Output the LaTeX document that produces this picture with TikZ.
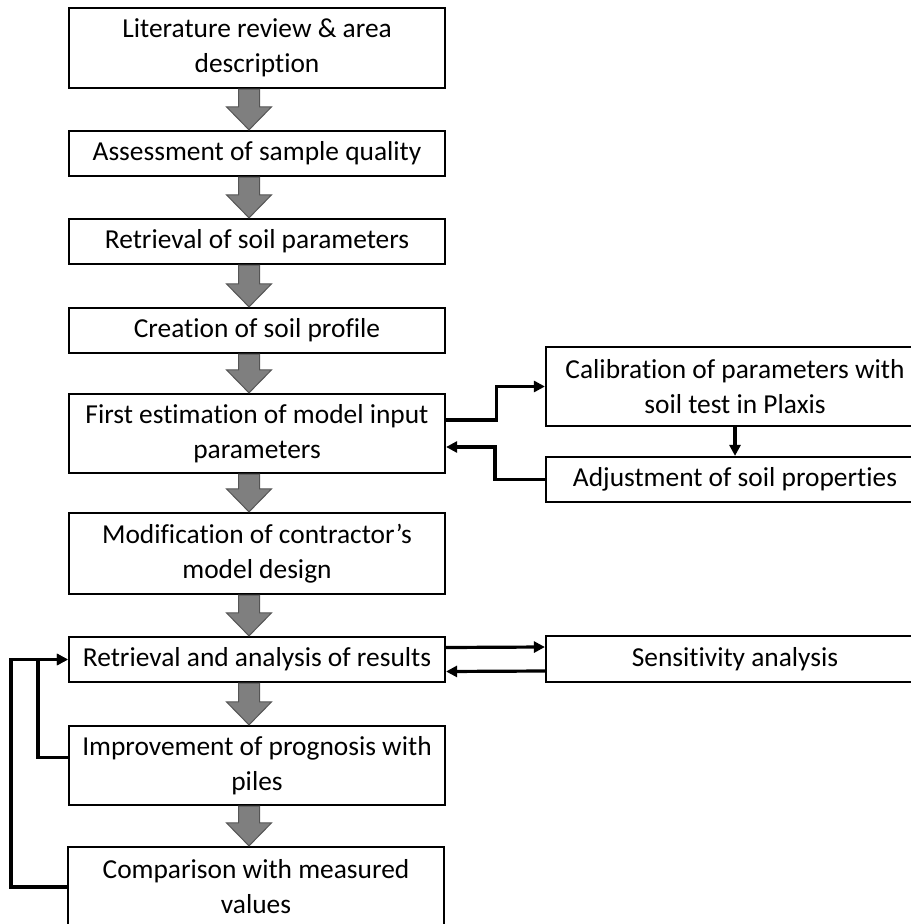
\documentclass[tikz,border=0pt]{standalone}
\usepackage{fontspec}
\setmainfont{Carlito}[Ligatures=NoCommon]
\usetikzlibrary{arrows.meta,positioning,calc}

\definecolor{arrowgray}{RGB}{127,127,127}
\definecolor{arrowedge}{RGB}{85,85,85}

\tikzset{
    stage/.style={draw, line width=1.1pt, minimum width=188pt, inner sep=2pt,
        align=center, font=\fontsize{13.7}{17.5}\selectfont},
    side/.style={stage, minimum width=189pt},
    conn/.style={line width=1.6pt, -{Triangle[length=5.5pt,width=5.5pt]}},
    flowarrow/.style={fill=arrowgray, draw=arrowedge, line width=0.5pt}
}

\begin{document}
\begin{tikzpicture}[x=0.5pt,y=-0.5pt]
            \useasboundingbox (0,0) rectangle (910,924);
            % main column
            \node[stage, minimum height=40pt] (lit) at (257,48) {Literature review \& area\\description};
            \node[stage, minimum height=22.5pt] (qual) at (257,153.5) {Assessment of sample quality};
            \node[stage, minimum height=22.5pt] (ret) at (257,241.5) {Retrieval of soil parameters};
            \node[stage, minimum height=22.5pt] (prof) at (257,330.5) {Creation of soil profile};
            \node[stage, minimum height=39.5pt] (est) at (257,433.5) {First estimation of model input\\parameters};
            \node[stage, minimum height=40.5pt] (mod) at (257,553.5) {Modification of contractor’s\\model design};
            \node[stage, minimum height=22.5pt] (res) at (257,659.5) {Retrieval and analysis of results};
            \node[stage, minimum height=39.5pt] (imp) at (257,765.5) {Improvement of prognosis with\\piles};
            \node[stage, minimum height=40pt] (comp) at (256,887) {Comparison with measured\\values};
            % side boxes
            \node[side, minimum height=39.5pt] (cal) at (735,386.5) {Calibration of parameters with\\soil test in Plaxis};
            \node[side, minimum height=22.5pt] (adj) at (735,479.5) {Adjustment of soil properties};
            \node[side, minimum height=23pt] (sens) at (735,659) {Sensitivity analysis};
            % block arrows
            \coordinate (ax) at (249,0);
            \foreach \a/\b in {lit/qual,qual/ret,ret/prof,prof/est,est/mod,mod/res,res/imp,imp/comp}{
                \coordinate (s) at (\a.south -| ax);
                \coordinate (t) at (\b.north -| ax);
                \filldraw[flowarrow] ([xshift=-5.25pt]s) -- ([xshift=-5.25pt,yshift=11.5pt]t)
                    -- ([xshift=-11.25pt,yshift=11.5pt]t) -- (t)
                    -- ([xshift=11.25pt,yshift=11.5pt]t) -- ([xshift=5.25pt,yshift=11.5pt]t)
                    -- ([xshift=5.25pt]s) -- cycle;
            }
            % calibration loop
            \draw[conn] ([yshift=6.75pt]est.east) -- ++(25pt,0) |- (cal.west);
            \draw[conn] (cal) -- (adj);
            \draw[conn] (adj.west) -- ++(-25pt,0) |- ([yshift=-6.75pt]est.east);
            % sensitivity
            \draw[conn] ([yshift=6pt]res.east) -- ([yshift=6pt]sens.west);
            \draw[conn] ([yshift=-6pt]sens.west) -- ([yshift=-6pt]res.east);
            % feedback
            \draw[conn] ([yshift=4pt]imp.west) -- ++(-15pt,0) |- (res.west);
            \draw[conn] (comp.west) -- ++(-28pt,0) |- (res.west);
        \end{tikzpicture}
\end{document}
